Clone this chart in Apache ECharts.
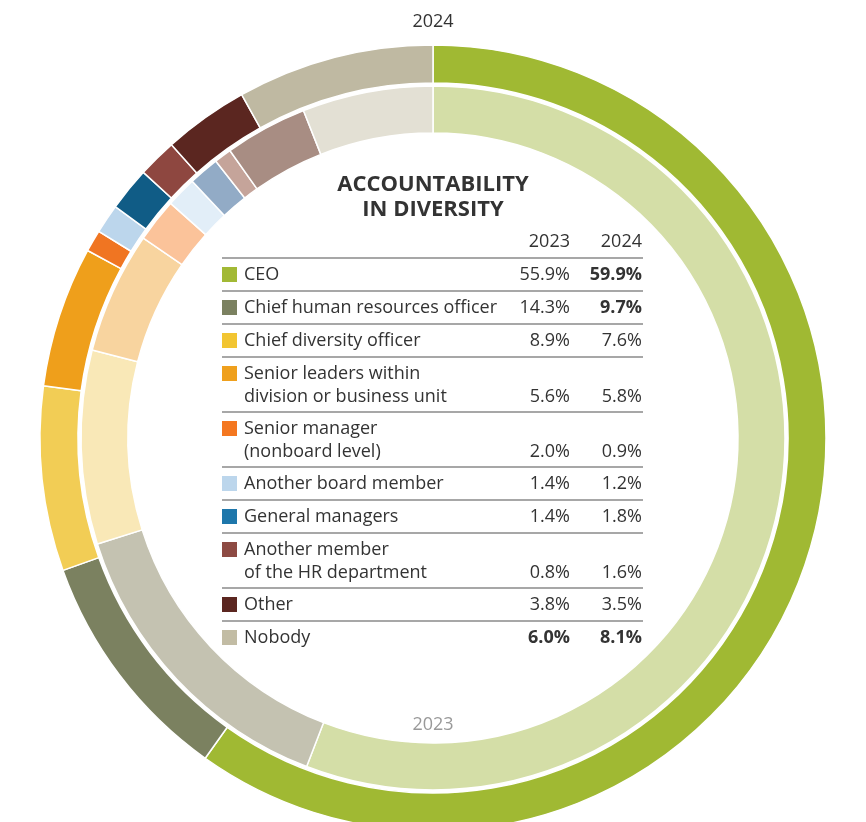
<!DOCTYPE html>
<html>
<head>
<meta charset="utf-8">
<script src="https://cdn.jsdelivr.net/npm/echarts@6/dist/echarts.min.js"></script>
<style>
html,body{margin:0;padding:0;background:#fff;}
#chart{width:866px;height:822px;}
</style>
</head>
<body>
<div id="chart"></div>
<script>
// 类别，顺时针从12点开始
var categories = ['CEO', 'Chief human resources officer', 'Chief diversity officer',
	'Senior leaders within\ndivision or business unit', 'Senior manager\n(nonboard level)',
	'Another board member', 'General managers', 'Another member\nof the HR department',
	'Other', 'Nobody'];
var values2023 = [55.9, 14.3, 8.9, 5.6, 2.0, 1.4, 1.4, 0.8, 3.8, 6.0];
var values2024 = [59.9, 9.7, 7.6, 5.8, 0.9, 1.2, 1.8, 1.6, 3.5, 8.1];
// 表格里加粗的数值
var bold2023 = [false, false, false, false, false, false, false, false, false, true];
var bold2024 = [true, true, false, false, false, false, false, false, false, true];
var yearLabels = ['2023', '2024'];

// 颜色
var outerColors = ['#a0b933', '#7b8160', '#f2cd55', '#ef9f1b', '#f07522', '#bcd6ec', '#105c86', '#8e4740', '#5b2620', '#bfb9a2'];
var innerColors = ['#d4dea7', '#c4c2b1', '#f9e8b7', '#f8d49f', '#fbc39a', '#e2eef8', '#92abc6', '#c5a49a', '#a88d83', '#e3e0d4'];
var swatchColors = ['#a2b935', '#7b8160', '#f2c531', '#efa01d', '#f47720', '#bcd6ec', '#1e77ab', '#8d4a43', '#5b2620', '#c2bca4'];

var fontFamily = '"Open Sans", sans-serif';
var textColor = '#333';
var textFont = '18px ' + fontFamily;

function buildData(values, colors)
{
	var data = [];
	for (var i = 0; i < values.length; i++)
	{
		data.push({name: categories[i], value: values[i], itemStyle: {color: colors[i]}});
	}
	return data;
}

//中间的表格
function buildTable()
{
	var els = [];
	var left = 222, right = 643, col1 = 570, col2 = 642;
	els.push({type: 'text', style: {x: 433, y: 172,
		text: 'ACCOUNTABILITY\nIN DIVERSITY', font: 'bold 22px ' + fontFamily,
		fill: textColor, align: 'center', verticalAlign: 'top', lineHeight: 25}});
	els.push({type: 'text', style: {x: col1, y: 242, text: yearLabels[0], align: 'right', verticalAlign: 'middle',
		font: textFont, fill: textColor}});
	els.push({type: 'text', style: {x: col2, y: 242, text: yearLabels[1], align: 'right', verticalAlign: 'middle',
		font: textFont, fill: textColor}});
	var y = 258;
	for (var i = 0; i < categories.length; i++)
	{
		var lines = categories[i].split('\n');
		var h = lines.length > 1 ? 55 : 33;
		els.push({type: 'line', shape: {x1: left, y1: y, x2: right, y2: y},
			style: {stroke: '#8a8a8a', lineWidth: 1.5}});
		els.push({type: 'rect', shape: {x: left, y: y + 9, width: 15, height: 15},
			style: {fill: swatchColors[i]}});
		for (var j = 0; j < lines.length; j++)
		{
			els.push({type: 'text', style: {x: 244, y: y + 16.5 + j * 23, text: lines[j],
				verticalAlign: 'middle', font: textFont, fill: textColor}});
		}
		var vy = y + 16.5 + (lines.length - 1) * 23;
		els.push({type: 'text', style: {x: col1, y: vy, text: values2023[i].toFixed(1) + '%', align: 'right',
			verticalAlign: 'middle', font: (bold2023[i] ? 'bold ' : '') + textFont, fill: textColor}});
		els.push({type: 'text', style: {x: col2, y: vy, text: values2024[i].toFixed(1) + '%', align: 'right',
			verticalAlign: 'middle', font: (bold2024[i] ? 'bold ' : '') + textFont, fill: textColor}});
		y += h;
	}
	//年份标签
	els.push({type: 'text', style: {x: 433, y: 22, text: yearLabels[1], align: 'center', verticalAlign: 'middle',
		font: textFont, fill: textColor}});
	els.push({type: 'text', style: {x: 433, y: 725, text: yearLabels[0], align: 'center', verticalAlign: 'middle',
		font: textFont, fill: '#999'}});
	return els;
}

var myChart = echarts.init(document.getElementById('chart'));
var center = [433, 438];
var option = {
	animation: false,
	backgroundColor: '#fff',
	series: [
		{
			type: 'pie', name: '2024', center: center, radius: [355, 393], startAngle: 90,
			silent: true, label: {show: false}, labelLine: {show: false},
			itemStyle: {borderColor: '#fff', borderWidth: 1.5},
			data: buildData(values2024, outerColors)
		},
		{
			type: 'pie', name: '2023', center: center, radius: [305, 352], startAngle: 90,
			silent: true, label: {show: false}, labelLine: {show: false},
			itemStyle: {borderColor: '#fff', borderWidth: 1.5},
			data: buildData(values2023, innerColors)
		}
	],
	graphic: buildTable()
};
myChart.setOption(option);
</script>
</body>
</html>
